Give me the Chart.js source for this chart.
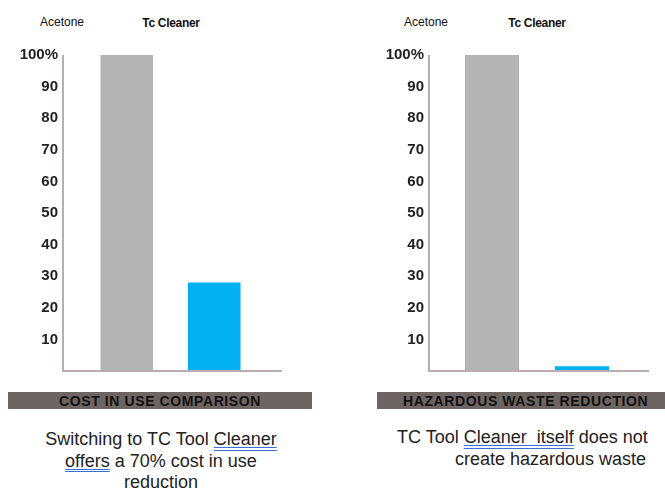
<!DOCTYPE html>
<html>
<head>
<meta charset="utf-8">
<script src="https://cdn.jsdelivr.net/npm/chart.js@4"></script>
<style>
  body { margin: 0; width: 665px; height: 491px; background: #fff; position: relative; overflow: hidden;
         font-family: "Liberation Sans", Arial, sans-serif; color: #222; }
  canvas { position: absolute; }
  .cat { position: absolute; font-size: 12px; transform: translateX(-50%); white-space: nowrap; color: #111; }
  .banner { position: absolute; top: 392px; height: 17px; background: #6e6462; overflow: hidden; }
  .banner span { position: absolute; top: 0; font-weight: bold; font-size: 14px; line-height: 18px; color: #111; letter-spacing: 0.6px; white-space: nowrap; }
  .cap { position: absolute; font-size: 18px; line-height: 21.5px; white-space: nowrap; }
  .sp { text-decoration: underline double #3b6fd8; text-underline-offset: 2px; }
</style>
</head>
<body>
<canvas id="cost"></canvas>
<canvas id="waste"></canvas>

<div class="cat" id="c1a" style="left:62px; top:15px;"></div>
<div class="cat" id="c1b" style="left:171px; top:16px; font-weight:bold; letter-spacing:-0.3px;"></div>
<div class="cat" id="c2a" style="left:426px; top:15px;"></div>
<div class="cat" id="c2b" style="left:537px; top:16px; font-weight:bold; letter-spacing:-0.3px;"></div>

<div class="banner" style="left:8px; width:304px;"><span style="left:0; width:304px; text-align:center;">COST IN USE COMPARISON</span></div>
<div class="banner" style="left:377px; width:288px;"><span style="left:26px;">HAZARDOUS WASTE REDUCTION</span></div>

<div class="cap" style="left:0; width:322px; top:429px; text-align:center;">Switching to TC Tool <span class="sp">Cleaner </span><br><span class="sp">offers</span> a 70% cost in use<br>reduction</div>
<div class="cap" style="left:397px; top:427px;">TC Tool <span class="sp">Cleaner&nbsp; itself</span> does not</div>
<div class="cap" style="left:455px; top:449px;">create hazardous waste</div>

<script>
const categories = ["Acetone", "Tc Cleaner"];
const costValues = [100, 28];
const wasteValues = [100, 1.5];
const barColors = ["#b3b3b3", "#00b0f0"];
const yTicks = [10, 20, 30, 40, 50, 60, 70, 80, 90, 100];

document.getElementById("c1a").textContent = categories[0];
document.getElementById("c1b").textContent = categories[1];
document.getElementById("c2a").textContent = categories[0];
document.getElementById("c2b").textContent = categories[1];

// L-shaped axis that runs a bit past the bars, like the original
const axisLines = {
    id: "axisLines",
    afterDatasetsDraw(chart, args, opts) {
        const a = chart.chartArea;
        const ctx = chart.ctx;
        ctx.save();
        ctx.strokeStyle = "#b8aeb0";
        ctx.lineWidth = 2;
        ctx.beginPath();
        ctx.moveTo(a.left - opts.left, a.top);
        ctx.lineTo(a.left - opts.left, a.bottom);
        ctx.lineTo(a.right + opts.right, a.bottom);
        ctx.stroke();
        ctx.restore();
    }
};

function makeChart(id, left, width, values, yWidth, padRight, extL, extR) {
    const cv = document.getElementById(id);
    cv.width = width;
    cv.height = 340;
    cv.style.left = left + "px";
    cv.style.top = "40px";
    return new Chart(cv, {
        type: "bar",
        data: {
            labels: categories,
            datasets: [{
                data: values,
                backgroundColor: barColors,
                barPercentage: 0.6,
                categoryPercentage: 1
            }]
        },
        options: {
            responsive: false,
            animation: false,
            devicePixelRatio: 1,
            layout: { padding: { top: 15, bottom: 9, right: padRight, left: 0 } },
            plugins: { legend: { display: false }, tooltip: { enabled: false }, axisLines: { left: extL, right: extR } },
            scales: {
                x: {
                    grid: { display: false },
                    border: { display: false },
                    ticks: { display: false },
                    afterFit(s) { s.height = 0; }
                },
                y: {
                    min: 0,
                    max: 100,
                    grid: { display: false, drawTicks: false },
                    border: { display: false },
                    afterFit(s) {
                        s.width = yWidth;
                        s.paddingTop = 0;
                        s.paddingBottom = 0;
                    },
                    afterBuildTicks(s) { s.ticks = yTicks.map(v => ({ value: v })); },
                    ticks: {
                        padding: extL + 5,
                        color: "#222",
                        font: { family: "Liberation Sans", weight: "bold", size: 15 },
                        callback: v => v === 100 ? "100%" : String(v)
                    }
                }
            }
        },
        plugins: [axisLines]
    });
}

// chart area set so the bars sit where they do in the picture
makeChart("cost", 0, 300, costValues, 83, 42, 20, 24);
makeChart("waste", 330, 335, wasteValues, 117, 38, 18, 22);
</script>
</body>
</html>
